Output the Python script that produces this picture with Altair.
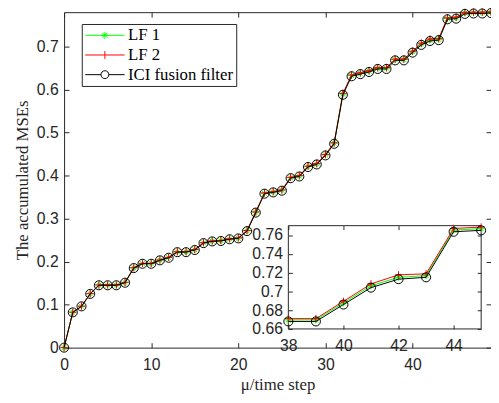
import altair as alt
import pandas as pd

# ---------------- data ----------------
steps = list(range(50))
ici = [0.0, 0.082, 0.096, 0.125, 0.145, 0.145, 0.145, 0.151, 0.185, 0.195,
       0.195, 0.203, 0.209, 0.222, 0.222, 0.227, 0.243, 0.247, 0.248, 0.252,
       0.254, 0.271, 0.314, 0.358, 0.361, 0.365, 0.394, 0.398, 0.420, 0.426,
       0.447, 0.474, 0.588, 0.631, 0.636, 0.641, 0.648, 0.648, 0.668, 0.668,
       0.686, 0.704, 0.713, 0.715, 0.7635, 0.765, 0.776, 0.777, 0.777, 0.778]
lf1 = [0.0, 0.0822, 0.0962, 0.1253, 0.1454, 0.1454, 0.1454, 0.1514, 0.1855, 0.1955,
       0.1955, 0.2035, 0.2095, 0.2226, 0.2226, 0.2276, 0.2436, 0.2476, 0.2486, 0.2526,
       0.2546, 0.2717, 0.3148, 0.3589, 0.3619, 0.3659, 0.3950, 0.3990, 0.4211, 0.4271,
       0.4482, 0.4752, 0.5895, 0.6326, 0.6376, 0.6426, 0.6496, 0.6496, 0.6697, 0.6697,
       0.6877, 0.7060, 0.7150, 0.7168, 0.7653, 0.7668, 0.7779, 0.7789, 0.7789, 0.7799]
lf2 = [0.0, 0.0824, 0.0965, 0.1256, 0.1457, 0.1457, 0.1457, 0.1518, 0.1859, 0.1960,
       0.1960, 0.2040, 0.2100, 0.2231, 0.2231, 0.2281, 0.2442, 0.2482, 0.2492, 0.2533,
       0.2553, 0.2724, 0.3156, 0.3598, 0.3628, 0.3668, 0.3960, 0.4000, 0.4221, 0.4281,
       0.4492, 0.4764, 0.5910, 0.6342, 0.6392, 0.6442, 0.6512, 0.6512, 0.6710, 0.6710,
       0.6894, 0.7080, 0.7176, 0.7187, 0.7670, 0.7685, 0.7795, 0.7800, 0.7800, 0.7808]

series_names = ["LF 1", "LF 2", "ICI fusion filter"]
series_colors = ["#00ff00", "#ff0000", "#000000"]

x_domain = [0, 49]
y_domain = [0, 0.78]
x_ticks = [0, 10, 20, 30, 40]
y_ticks = [0, 0.1, 0.2, 0.3, 0.4, 0.5, 0.6, 0.7]

inset_x_domain = [38, 45]
inset_y_domain = [0.66, 0.77]
inset_x_ticks = [38, 40, 42, 44]
inset_y_ticks = [0.66, 0.68, 0.70, 0.72, 0.74, 0.76]

# ---------------- tables ----------------
df = pd.concat([
    pd.DataFrame({"t": steps, "v": lf1, "series": series_names[0]}),
    pd.DataFrame({"t": steps, "v": lf2, "series": series_names[1]}),
    pd.DataFrame({"t": steps, "v": ici, "series": series_names[2]}),
], ignore_index=True)
inset_df = df[(df.t >= inset_x_domain[0]) & (df.t <= inset_x_domain[1])]
box_df = pd.DataFrame({"x0": [inset_x_domain[0]], "x1": [inset_x_domain[1]],
                       "y0": [inset_y_domain[0]], "y1": [inset_y_domain[1]]})

# ---------------- styling ----------------
W, H = 434, 341
AX = "#262626"
SANS = "Liberation Sans"
SERIF = "Liberation Serif"
INSET_X_RANGE = [228, 424]
INSET_Y_RANGE = [322, 217]

asterisk = "M-1,0L1,0M0,-1L0,1M-0.7,-0.7L0.7,0.7M-0.7,0.7L0.7,-0.7"
plus = "M-1,0L1,0M0,-1L0,1"
marker_shapes = [asterisk, plus, "circle"]
marker_sizes = [49, 56, 85]

# legend glyphs: line from -1 to 4 units (8 px per unit at size 256), marker at 1.5
legend_paths = [
    "M-1,0L4,0M1.05,0L1.95,0M1.5,-0.45L1.5,0.45M1.18,-0.32L1.82,0.32M1.18,0.32L1.82,-0.32",
    "M-1,0L4,0M1.5,-0.5L1.5,0.5",
    "M-1,0L1,0M2,0L4,0M2,0A0.5,0.5 0 1,1 1,0A0.5,0.5 0 1,1 2,0",
]


def axis_common(**kw):
    base = dict(grid=False, domain=False, tickColor=AX, labelColor=AX,
                labelFont=SANS, labelFontSize=16, labelFlush=False,
                labelOverlap=False, tickWidth=1)
    base.update(kw)
    return alt.Axis(**base)


mx = alt.Scale(domain=x_domain, nice=False, zero=False)
my = alt.Scale(domain=y_domain, nice=False, zero=False)
ix = alt.Scale(domain=inset_x_domain, range=INSET_X_RANGE, nice=False, zero=False)
iy = alt.Scale(domain=inset_y_domain, range=INSET_Y_RANGE, nice=False, zero=False)

layers = []

# main axes (bottom / left)
main_bottom = axis_common(orient="bottom", values=x_ticks, offset=-5, tickSize=5,
                          labelPadding=9, format="d", title="μ/time step",
                          titleFont=SERIF, titleFontSize=17, titleFontWeight="normal",
                          titleColor=AX, titlePadding=5)
main_left = axis_common(orient="left", values=y_ticks, offset=-5, tickSize=5,
                        labelPadding=6, format="~g", title="The accumulated MSEs",
                        titleFont=SERIF, titleFontSize=17, titleFontWeight="normal",
                        titleColor=AX, titlePadding=5)
main_top = axis_common(orient="top", values=x_ticks, offset=-5, tickSize=5,
                       labels=False, title=None)
main_right = axis_common(orient="right", values=y_ticks, offset=-5, tickSize=5,
                         labels=False, title=None)

# axis carrier layers (invisible points)
layers.append(alt.Chart(df).mark_point(opacity=0).encode(
    x=alt.X("t:Q", scale=mx, axis=main_bottom),
    y=alt.Y("v:Q", scale=my, axis=main_left)))
layers.append(alt.Chart(df).mark_point(opacity=0).encode(
    x=alt.X("t:Q", scale=mx, axis=main_top),
    y=alt.Y("v:Q", scale=my, axis=main_right)))

# main series
for name, col, shp, sz in zip(series_names, series_colors, marker_shapes, marker_sizes):
    sub = df[df.series == name]
    layers.append(alt.Chart(sub).mark_line(color=col, strokeWidth=1).encode(
        x=alt.X("t:Q", scale=mx, axis=None),
        y=alt.Y("v:Q", scale=my, axis=None)))
    layers.append(alt.Chart(sub).mark_point(shape=shp, size=sz, filled=False,
                                            color=col, strokeWidth=1, opacity=1).encode(
        x=alt.X("t:Q", scale=mx, axis=None),
        y=alt.Y("v:Q", scale=my, axis=None)))

# legend carrier
leg = alt.Legend(title=None, orient="none", legendX=18, legendY=12,
                 strokeColor=AX, fillColor="white", padding=3,
                 labelFont=SERIF, labelFontSize=17, labelColor="black",
                 symbolStrokeWidth=1, symbolSize=256, labelOffset=27,
                 rowPadding=2, cornerRadius=0)
layers.append(alt.Chart(df).mark_point(opacity=0, filled=False).encode(
    x=alt.X("t:Q", scale=mx, axis=None),
    y=alt.Y("v:Q", scale=my, axis=None),
    color=alt.Color("series:N", scale=alt.Scale(domain=series_names, range=series_colors),
                    legend=leg, sort=series_names),
    shape=alt.Shape("series:N", scale=alt.Scale(domain=series_names, range=legend_paths),
                    legend=leg, sort=series_names)))

# inset box with bottom/left axes
inset_bottom = axis_common(orient="bottom", values=inset_x_ticks, offset=-23, tickSize=4,
                           labelPadding=9, format="d", title=None, zindex=1)
inset_left = axis_common(orient="left", values=inset_y_ticks, offset=-232, tickSize=4,
                         labelPadding=6, format="~g", title=None, zindex=1)
inset_top = axis_common(orient="top", values=inset_x_ticks, offset=-221, tickSize=4,
                        labels=False, title=None, zindex=1)
inset_right = axis_common(orient="right", values=inset_y_ticks, offset=-14, tickSize=4,
                          labels=False, title=None, zindex=1)

layers.append(alt.Chart(box_df).mark_rect(fill="white", stroke=AX, strokeWidth=1).encode(
    x=alt.X("x0:Q", scale=ix, axis=inset_bottom), x2="x1:Q",
    y=alt.Y("y0:Q", scale=iy, axis=inset_left), y2="y1:Q"))
layers.append(alt.Chart(box_df).mark_rect(fill=None, strokeOpacity=0).encode(
    x=alt.X("x0:Q", scale=ix, axis=inset_top), x2="x1:Q",
    y=alt.Y("y0:Q", scale=iy, axis=inset_right), y2="y1:Q"))

for name, col, shp, sz in zip(series_names, series_colors, marker_shapes, marker_sizes):
    sub = inset_df[inset_df.series == name]
    layers.append(alt.Chart(sub).mark_line(color=col, strokeWidth=1).encode(
        x=alt.X("t:Q", scale=ix, axis=None),
        y=alt.Y("v:Q", scale=iy, axis=None)))
    layers.append(alt.Chart(sub).mark_point(shape=shp, size=sz, filled=False,
                                            color=col, strokeWidth=1, opacity=1).encode(
        x=alt.X("t:Q", scale=ix, axis=None),
        y=alt.Y("v:Q", scale=iy, axis=None)))

chart = alt.layer(*layers).resolve_scale(
    x="independent", y="independent"
).resolve_axis(
    x="independent", y="independent"
).properties(
    width=W, height=H,
    autosize=alt.AutoSizeParams(type="none"),
    padding={"left": 57, "top": 1, "right": 0, "bottom": 52},
).configure_view(stroke=AX, strokeWidth=1)

chart.save("out.html", embed_options={"renderer": "svg", "actions": False})
